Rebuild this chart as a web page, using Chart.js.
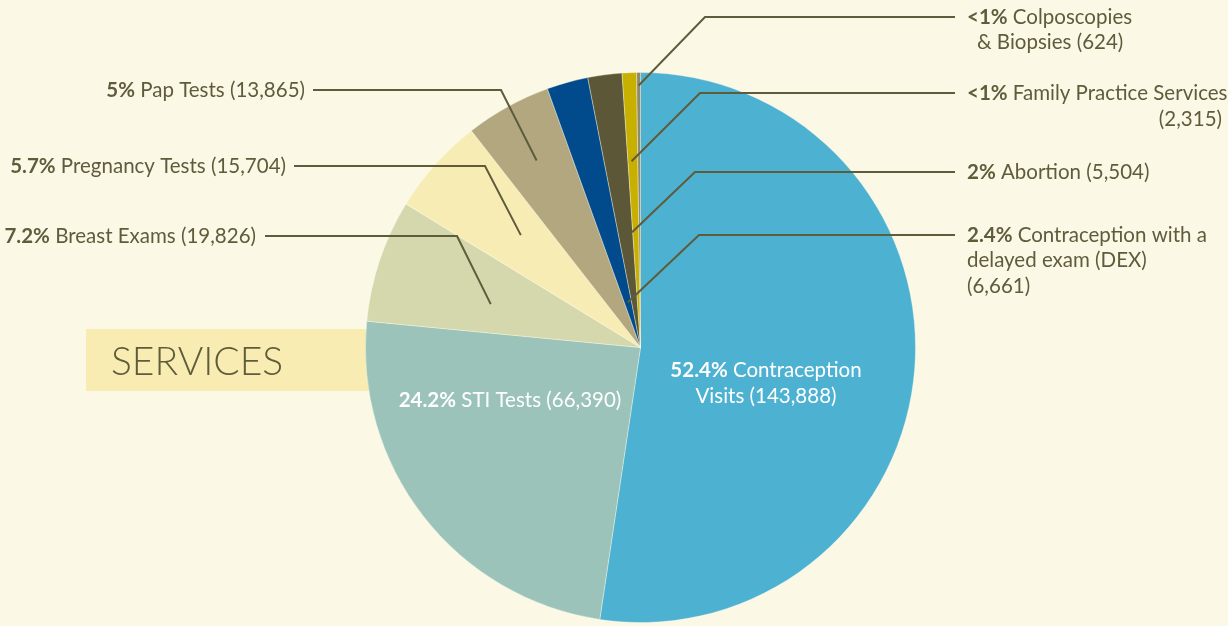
<!DOCTYPE html>
<html>
<head>
<meta charset="utf-8">
<script src="https://cdn.jsdelivr.net/npm/chart.js@4.4.1/dist/chart.umd.min.js"></script>
<style>
  html, body { margin: 0; padding: 0; background: #fcf8e6; }
  #wrap { width: 1228px; height: 626px; position: relative; }
</style>
</head>
<body>
<div id="wrap"><canvas id="servicesChart" width="1228" height="626"></canvas></div>
<script>
// Data (clockwise from 12 o'clock)
const categories = ['Contraception Visits', 'STI Tests', 'Breast Exams', 'Pregnancy Tests', 'Pap Tests',
    'Contraception with a delayed exam (DEX)', 'Abortion', 'Family Practice Services', 'Colposcopies & Biopsies'];
const visits = [143888, 66390, 19826, 15704, 13865, 6661, 5504, 2315, 624];
const percentLabels = ['52.4%', '24.2%', '7.2%', '5.7%', '5%', '2.4%', '2%', '<1%', '<1%'];
const sliceColors = ['#4db1d1', '#9bc3b9', '#d4d8ac', '#f8ecb5', '#b2a77f', '#014a8c', '#5b5737', '#c8b000', '#8f8a6c'];

const INK = '#5e5c3b';
const FONT = 'Lato, "Open Sans", sans-serif';
const FS = 20.5;

// Label layout: words per line, line positions, leader line anchor inside the slice
const labelLayout = [
    { inside: true, color: '#ffffff', breaks: [2, 2], lines: [{ x: 766, y: 370, align: 'center' }, { x: 766, y: 396, align: 'center' }] },
    { inside: true, color: '#ffffff', breaks: [5], lines: [{ x: 510, y: 400, align: 'center' }] },
    { breaks: [4], lines: [{ x: 256, y: 236, align: 'right' }], frac: 0.41, rad: 0.567, elbowX: 457, lineEnd: 265 },
    { breaks: [4], lines: [{ x: 286, y: 166, align: 'right' }], frac: 0.57, rad: 0.597, elbowX: 485, lineEnd: 294 },
    { breaks: [4], lines: [{ x: 305, y: 90, align: 'right' }], frac: 0.49, rad: 0.778, elbowX: 501, lineEnd: 313 },
    { breaks: [4, 3, 1], lines: [{ x: 967, y: 235, align: 'left' }, { x: 967, y: 260, align: 'left' }, { x: 967, y: 286, align: 'left' }], frac: 0.44, rad: 0.17, elbowX: 699, lineEnd: 955 },
    { breaks: [3], lines: [{ x: 967, y: 172, align: 'left' }], frac: 0.95, rad: 0.42, elbowX: 695, lineEnd: 955 },
    { breaks: [4, 1], lines: [{ x: 967, y: 93, align: 'left' }, { x: 1222, y: 119, align: 'right' }], frac: 0.36, rad: 0.678, elbowX: 700, lineEnd: 955 },
    { breaks: [2, 3], lines: [{ x: 967, y: 17, align: 'left' }, { x: 977, y: 42, align: 'left' }], frac: 0.5, rad: 0.953, elbowX: 705, lineEnd: 955 }
];

function drawLine(ctx, words, boldFirst, x, y, align, color) {
    const bold = '700 ' + FS + 'px ' + FONT;
    const reg = '400 ' + FS + 'px ' + FONT;
    const parts = words.map((w, i) => ({ t: (i > 0 ? ' ' : '') + w, b: boldFirst && i === 0 }));
    let total = 0;
    parts.forEach(p => { ctx.font = p.b ? bold : reg; p.w = ctx.measureText(p.t).width; total += p.w; });
    let cx = align === 'right' ? x - total : align === 'center' ? x - total / 2 : x;
    ctx.fillStyle = color;
    ctx.textAlign = 'left';
    ctx.textBaseline = 'middle';
    parts.forEach(p => { ctx.font = p.b ? bold : reg; ctx.fillText(p.t, cx, y); cx += p.w; });
}

const backdrop = {
    id: 'backdrop',
    beforeDraw(chart) {
        const ctx = chart.ctx;
        ctx.save();
        ctx.fillStyle = '#fcf8e6';
        ctx.fillRect(0, 0, chart.width, chart.height);
        ctx.fillStyle = '#f8ecb2';
        ctx.fillRect(86, 329, 330, 62);
        ctx.fillStyle = INK;
        ctx.font = '300 39px ' + FONT;
        ctx.textBaseline = 'middle';
        ctx.fillText('SERVICES', 111, 362);
        ctx.restore();
    }
};

const sliceLabels = {
    id: 'sliceLabels',
    afterDatasetsDraw(chart) {
        const ctx = chart.ctx;
        const arcs = chart.getDatasetMeta(0).data;
        ctx.save();
        labelLayout.forEach((lay, i) => {
            const words = [percentLabels[i]].concat(categories[i].split(' '), ['(' + visits[i].toLocaleString('en-US') + ')']);
            let k = 0;
            lay.breaks.forEach((n, li) => {
                const pos = lay.lines[li];
                drawLine(ctx, words.slice(k, k + n), li === 0, pos.x, pos.y, pos.align, lay.color || INK);
                k += n;
            });
            if (lay.inside) return;
            const a = arcs[i].getProps(['x', 'y', 'startAngle', 'endAngle', 'outerRadius'], true);
            const ang = a.startAngle + lay.frac * (a.endAngle - a.startAngle);
            const px = a.x + Math.cos(ang) * a.outerRadius * lay.rad;
            const py = a.y + Math.sin(ang) * a.outerRadius * lay.rad;
            const ly = lay.lines[0].y;
            ctx.strokeStyle = INK;
            ctx.lineWidth = 2;
            ctx.beginPath();
            ctx.moveTo(px, py);
            ctx.lineTo(lay.elbowX, ly);
            ctx.lineTo(lay.lineEnd, ly);
            ctx.stroke();
        });
        ctx.restore();
    }
};

new Chart(document.getElementById('servicesChart'), {
    type: 'pie',
    data: {
        labels: categories,
        datasets: [{
            data: visits,
            backgroundColor: sliceColors,
            borderColor: 'rgba(255,255,240,0.35)',
            borderWidth: 1,
            hoverOffset: 0
        }]
    },
    options: {
        responsive: false,
        animation: false,
        events: [],
        layout: { padding: { left: 365, right: 312, top: 72, bottom: 3 } },
        plugins: { legend: { display: false }, tooltip: { enabled: false } }
    },
    plugins: [backdrop, sliceLabels]
});
</script>
</body>
</html>
